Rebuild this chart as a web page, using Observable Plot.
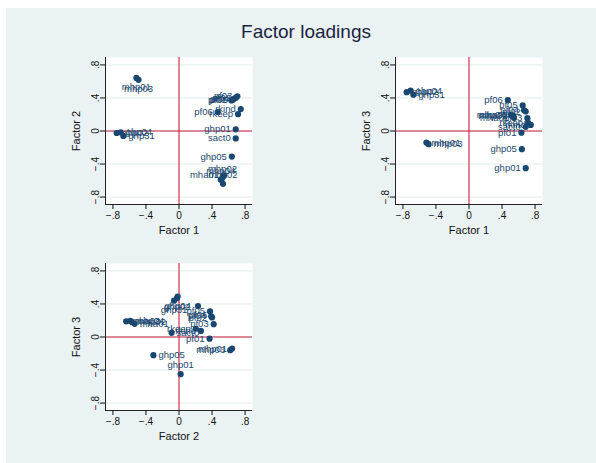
<!DOCTYPE html>
<html>
<head>
<meta charset="utf-8">
<script src="https://cdn.jsdelivr.net/npm/d3@7"></script>
<script src="https://cdn.jsdelivr.net/npm/@observablehq/plot@0.6"></script>
<style>
  html, body { margin: 0; padding: 0; background: #ffffff; }
  #page { position: relative; width: 596px; height: 463px; overflow: hidden; }
  #bg { position: absolute; left: 6px; top: 8px; width: 590px; height: 455px; background: #EAF2F3; }
  #title { position: absolute; left: 6px; width: 600px; top: 21px; text-align: center;
           font-family: "Liberation Sans", Arial, sans-serif; font-size: 19px; color: #1b2440; }
  .panel { position: absolute; }
  .panel g[aria-label="x-axis label"] text, .panel g[aria-label="y-axis label"] text { font-size: 11px; font-weight: normal; }
</style>
</head>
<body>
<div id="page">
  <div id="bg"></div>
  <div id="title"></div>
</div>
<script>
// ---- data ----
const title = "Factor loadings";
const vars = ["ghp01","ghp02","ghp04","ghp05","ghp31","mha01","mha02","mhp01","mhp02","mhp03",
              "mhp04","pf01","pf02","pf03","pf04","pf05","pf06","rkeep","rkind","sact0"];
const factor1 = [0.687,-0.755,-0.707,0.64,-0.674,0.545,0.533,-0.516,0.526,-0.49,
                 0.505,0.635,0.687,0.707,0.667,0.65,0.47,0.715,0.748,0.687];
const factor2 = [0.02,-0.024,-0.016,-0.31,-0.06,-0.537,-0.64,0.643,-0.57,0.62,
                 -0.59,0.37,0.40,0.42,0.39,0.376,0.23,0.204,0.265,-0.09];
const factor3 = [-0.45,0.47,0.49,-0.22,0.44,0.16,0.19,-0.14,0.18,-0.16,
                 0.195,-0.02,0.236,0.155,0.25,0.31,0.375,0.10,0.073,0.05];
const axisTitles = ["Factor 1", "Factor 2", "Factor 3"];
const ticks = [-0.8, -0.4, 0, 0.4, 0.8];
const domain = [-0.89, 0.89];

// ---- styling ----
const navy = "#1A476F";
const red = "#C8203E";
const font = "'Liberation Sans', Arial, sans-serif";

document.getElementById("title").textContent = title;

const fmt = d => d === 0 ? "0" : (d < 0 ? "\u2212" : "") + String(Math.abs(d)).replace(/^0/, "");

// label placed on the side facing the origin
function labelPos(x, y) {
  if (Math.abs(x) >= Math.abs(y)) return x > 0 ? "left" : "right";
  return y > 0 ? "below" : "above";
}

function panel(xs, ys, xLabel, yLabel) {
  const data = vars.map((v, i) => ({v, x: xs[i], y: ys[i], pos: labelPos(xs[i], ys[i])}));
  const txt = {x: "x", y: "y", text: "v", fill: navy, fontSize: 9.5};
  return Plot.plot({
    width: 200, height: 190,
    marginLeft: 50, marginRight: 3, marginTop: 7, marginBottom: 36,
    x: {domain, label: null},
    y: {domain, label: null},
    style: {background: "transparent", fontFamily: font, fontSize: "10px", color: "#111", overflow: "visible"},
    marks: [
      Plot.frame({fill: "white", stroke: null}),
      Plot.gridY(ticks, {stroke: "#E1EAEC", strokeOpacity: 1, strokeWidth: 1}),
      Plot.ruleX([0], {stroke: red, strokeWidth: 1.1}),
      Plot.ruleY([0], {stroke: red, strokeWidth: 1.1}),
      Plot.ruleX([domain[0]], {stroke: "#222", strokeWidth: 1}),
      Plot.ruleY([domain[0]], {stroke: "#222", strokeWidth: 1}),
      Plot.axisX({ticks, tickFormat: fmt, tickSize: 5, tickPadding: 2, fontSize: 10,
                  label: xLabel, labelAnchor: "center", labelOffset: 29, labelArrow: "none"}),
      Plot.axisY({ticks, tickFormat: fmt, tickSize: 5, tickPadding: 2, tickRotate: -90, fontSize: 10,
                  label: yLabel, labelAnchor: "center", labelOffset: 33, labelArrow: "none"}),
      Plot.dot(data, {x: "x", y: "y", r: 3.1, fill: navy, stroke: "none"}),
      Plot.text(data.filter(d => d.pos === "left"), {...txt, textAnchor: "end", dx: -5}),
      Plot.text(data.filter(d => d.pos === "right"), {...txt, textAnchor: "start", dx: 5}),
      Plot.text(data.filter(d => d.pos === "below"), {...txt, dy: 9}),
      Plot.text(data.filter(d => d.pos === "above"), {...txt, dy: -9})
    ]
  });
}

const panels = [
  {xs: factor1, ys: factor2, xl: axisTitles[0], yl: axisTitles[1], left: 55, top: 50},
  {xs: factor1, ys: factor3, xl: axisTitles[0], yl: axisTitles[2], left: 345, top: 50},
  {xs: factor2, ys: factor3, xl: axisTitles[1], yl: axisTitles[2], left: 55, top: 256}
];

const page = document.getElementById("page");
for (const p of panels) {
  const svg = panel(p.xs, p.ys, p.xl, p.yl);
  svg.classList.add("panel");
  svg.style.left = p.left + "px";
  svg.style.top = p.top + "px";
  page.appendChild(svg);
}
</script>
</body>
</html>
